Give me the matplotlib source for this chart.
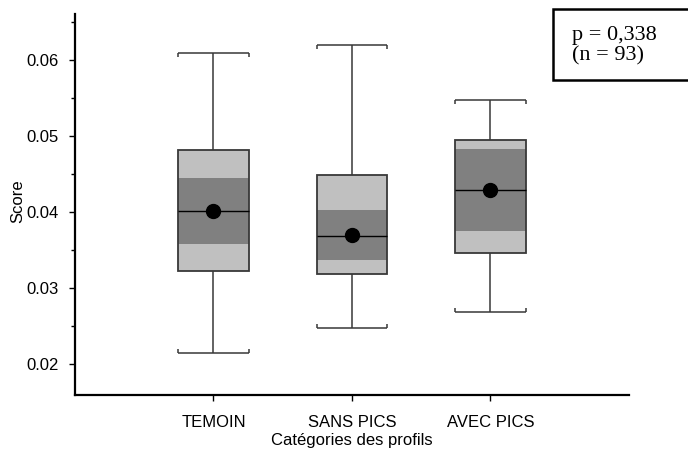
import matplotlib.pyplot as plt
from matplotlib.patches import Rectangle
import numpy as np

plt.rcParams['font.family'] = ['Liberation Sans', 'DejaVu Sans']

# Catégories et statistiques des profils
categories = ['TEMOIN', 'SANS PICS', 'AVEC PICS']
whisker_low = [0.0215, 0.0247, 0.0268]
q1 = [0.0323, 0.0319, 0.0346]
ci_low = [0.0358, 0.0337, 0.0375]
medians = [0.0401, 0.0369, 0.0429]
ci_high = [0.0445, 0.0403, 0.0483]
q3 = [0.0482, 0.0449, 0.0495]
whisker_high = [0.0610, 0.0620, 0.0547]
means = [0.0401, 0.0370, 0.0429]

fig = plt.figure(figsize=(6.88, 4.49), dpi=100)
ax = fig.add_axes([0.109, 0.120, 0.805, 0.849])

x = np.arange(1, len(categories) + 1)
w = 0.51
wc = '#383838'

# moustaches et leurs embouts
ax.vlines(x, whisker_low, q1, color=wc, lw=1.1, zorder=1)
ax.vlines(x, q3, whisker_high, color=wc, lw=1.1, zorder=1)
ax.hlines(whisker_low, x - w / 2, x + w / 2, color=wc, lw=1.1)
ax.hlines(whisker_high, x - w / 2, x + w / 2, color=wc, lw=1.1)
for xi, lo, hi in zip(x, whisker_low, whisker_high):
    ax.plot([xi - w / 2, xi + w / 2], [hi, hi], ls='none', marker=3,
            markersize=3, mew=1.1, color=wc)
    ax.plot([xi - w / 2, xi + w / 2], [lo, lo], ls='none', marker=2,
            markersize=3, mew=1.1, color=wc)

# boîtes (quartiles) et intervalle de confiance de la médiane
ax.bar(x, np.array(q3) - np.array(q1), bottom=q1, width=w, color='#c0c0c0',
       linewidth=0, zorder=2)
ax.bar(x, np.array(ci_high) - np.array(ci_low), bottom=ci_low, width=w,
       color='#808080', linewidth=0, zorder=3)
ax.bar(x, np.array(q3) - np.array(q1), bottom=q1, width=w, fill=False,
       edgecolor=wc, linewidth=1.3, zorder=4)
ax.hlines(medians, x - w / 2, x + w / 2, color='black', lw=1, zorder=5)
ax.plot(x, means, 'o', color='black', markersize=10, zorder=6)

ax.set_xlim(0, 4)
ax.set_ylim(0.0159, 0.0661)
ax.set_xticks(x)
ax.set_xticklabels(categories, fontsize=12)
ax.set_yticks([0.02, 0.03, 0.04, 0.05, 0.06])
ax.set_yticklabels(['0.02', '0.03', '0.04', '0.05', '0.06'], fontsize=12)
ax.set_yticks(np.arange(0.025, 0.066, 0.01), minor=True)
ax.tick_params(axis='y', which='major', length=4, width=1, pad=8)
ax.tick_params(axis='y', which='minor', length=3, width=1)
ax.tick_params(axis='x', length=4, width=1, pad=10)

for s in ['top', 'right']:
    ax.spines[s].set_visible(False)
for s in ['left', 'bottom']:
    ax.spines[s].set_linewidth(1.6)

ax.set_ylabel('Score', fontsize=12, va='center')
ax.yaxis.set_label_coords(-0.103, 0.51)
ax.set_xlabel('Catégories des profils', fontsize=12, va='top')
ax.xaxis.set_label_coords(0.5, -0.1)

# encadré du test
fig.patches.append(Rectangle((553 / 688, 1 - 80 / 449), 0.25, 71 / 449,
                             transform=fig.transFigure, facecolor='white',
                             edgecolor='black', linewidth=1.8))
fig.text(572 / 688, 1 - 46 / 449, 'p = 0,338\n(n = 93)', fontsize=16,
         family='Liberation Serif', linespacing=1.1, va='center')

plt.savefig('out.png', dpi=100)
